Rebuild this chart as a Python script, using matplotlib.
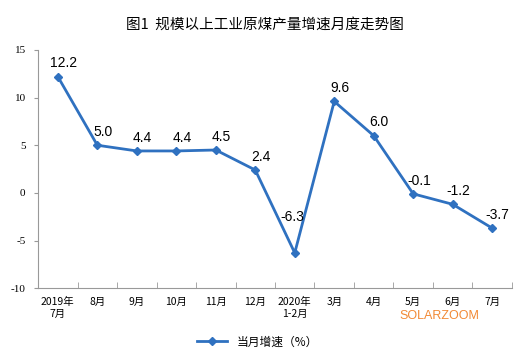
import matplotlib
matplotlib.use("Agg")
import matplotlib.pyplot as plt
import numpy as np

categories = ["2019年\n7月", "8月", "9月", "10月", "11月", "12月", "2020年\n1-2月",
              "3月", "4月", "5月", "6月", "7月"]
growth = [12.2, 5.0, 4.4, 4.4, 4.5, 2.4, -6.3, 9.6, 6.0, -0.1, -1.2, -3.7]
yticks = [-10, -5, 0, 5, 10, 15]

cjk = ['Noto Sans CJK SC', 'DejaVu Sans']
plt.rcParams['font.family'] = cjk

fig = plt.figure(figsize=(5.15, 3.62), dpi=100)
ax = fig.add_axes([0.074, 0.204, 0.920, 0.658])
color = '#2f71c0'
x = np.arange(len(categories))
line, = ax.plot(x, growth, color=color, lw=2.0, marker='D', ms=4.5, label='当月增速（%）')
for i, (xi, v) in enumerate(zip(x, growth)):
    if i == 6:
        off = (-1.5, 21)
    else:
        off = (4, 4.5)
    ax.annotate(f"{v:.1f}", (xi, v), xytext=off, textcoords='offset points',
                ha='center', va='bottom', fontsize=10, family='Liberation Sans')

ax.set_xlim(-0.5, len(categories) - 0.5)
ax.set_ylim(-10, 15)
ax.set_yticks(yticks)
ax.set_yticklabels([str(t) for t in yticks], family='Liberation Serif', fontsize=8)
ax.set_xticks(x)
ax.set_xticklabels(categories, fontsize=7.5, linespacing=1.3)
ax.set_xticks(np.arange(-0.5, len(categories), 1.0), minor=True)
ax.tick_params(axis='x', which='major', length=0, pad=6)
ax.tick_params(axis='x', which='minor', length=4, direction='in', color='#999999')
ax.tick_params(axis='y', length=3, direction='out', color='#999999', pad=6)
for s in ['top', 'right']:
    ax.spines[s].set_visible(False)
for s in ['left', 'bottom']:
    ax.spines[s].set_color('#999999')
    ax.spines[s].set_linewidth(0.8)

fig.text(0.515, 0.931, "图1  规模以上工业原煤产量增速月度走势图", ha='center', va='center', fontsize=10.5)
fig.legend(handles=[line], loc='center', bbox_to_anchor=(0.5, 0.055), frameon=False,
           fontsize=8.5, handlelength=2.5)
fig.text(0.775, 0.128, "SOLARZOOM", color='#f07c1e', fontsize=9, ha='left', va='center',
         family='Liberation Sans', alpha=0.9)

fig.savefig("out.png", dpi=100)
